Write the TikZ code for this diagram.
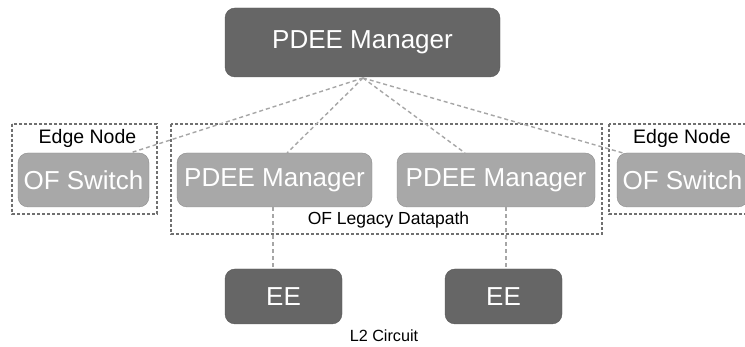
\documentclass[tikz,border=0pt]{standalone}
\usepackage{fontspec}
\setmainfont{Liberation Sans}
\begin{document}
\begin{tikzpicture}[x=1pt,y=1pt,
  darkbox/.style={draw=darkgray!60!gray, fill=boxdark, rounded corners=10pt, text=white, font=\fontsize{26}{28}\selectfont, inner sep=0pt},
  lightbox/.style={draw=boxlightborder, fill=boxlight, rounded corners=10pt, text=white, font=\fontsize{26}{28}\selectfont, inner sep=0pt},
  groupbox/.style={draw=groupgray, line width=1.2pt, dash pattern=on 3pt off 2pt},
  link/.style={draw=linkgray, line width=1.4pt, dash pattern=on 4pt off 3pt},
  lbl/.style={text=black, inner sep=0pt}
]
\definecolor{boxdark}{HTML}{666666}
\definecolor{boxlight}{HTML}{A8A8A8}
\definecolor{boxlightborder}{HTML}{8E8E8E}
\definecolor{groupgray}{HTML}{707070}
\definecolor{linkgray}{HTML}{A6A6A6}
\useasboundingbox[fill=white] (0,0) rectangle (745,347);

% group boxes
\draw[groupbox] (12,{347-124}) rectangle (157,{347-214});
\draw[groupbox] (171,{347-124}) rectangle (602,{347-234});
\draw[groupbox] (609,{347-124}) rectangle (760,{347-214});

% nodes
\node[darkbox, minimum width=275pt, minimum height=69pt] (top) at (362.5,{347-42.5}) {PDEE Manager};
\node[lightbox, minimum width=131pt, minimum height=54pt] (ofl) at (83.5,{347-180}) {OF Switch};
\node[lightbox, minimum width=195pt, minimum height=54pt] (pm1) at (274.5,{347-180}) {PDEE Manager};
\node[lightbox, minimum width=198pt, minimum height=54pt] (pm2) at (496,{347-180}) {PDEE Manager};
\node[lightbox, minimum width=131pt, minimum height=54pt] (ofr) at (682.5,{347-180}) {OF Switch};
\node[darkbox, minimum width=117pt, minimum height=55pt] (ee1) at (283.5,{347-296.5}) {EE};
\node[darkbox, minimum width=117pt, minimum height=55pt] (ee2) at (503.5,{347-296.5}) {EE};

% labels
\node[lbl, font=\fontsize{19.5}{21}\selectfont] (el) at (87.5,{347-138}) {Edge Node};
\node[lbl, font=\fontsize{19.5}{21}\selectfont] (er) at (682,{347-138}) {Edge Node};
\node[lbl, font=\fontsize{17.5}{19}\selectfont] (dp) at (388.5,{347-220}) {OF Legacy Datapath};
\node[lbl, font=\fontsize{16.2}{18}\selectfont] (l2) at (384,{347-335.5}) {L2 Circuit};

% connectors
\coordinate (hub) at (363,{347-78});
\draw[link] (hub) -- (130,{347-153});
\draw[link] (hub) -- (287,{347-153});
\draw[link] (hub) -- (465,{347-153});
\draw[link] (hub) -- (623,{347-153});
\draw[link] (ee1.north -| pm1.south) ++(-1.5,0) coordinate (a1) (pm1.south) ++(-1.5,0) coordinate (b1);
\draw[link] (b1) -- (a1);
\draw[link] (ee2.north -| pm2.south) ++(10,0) coordinate (a2) (pm2.south) ++(10,0) coordinate (b2);
\draw[link] (b2) -- (a2);
\end{tikzpicture}
\end{document}
